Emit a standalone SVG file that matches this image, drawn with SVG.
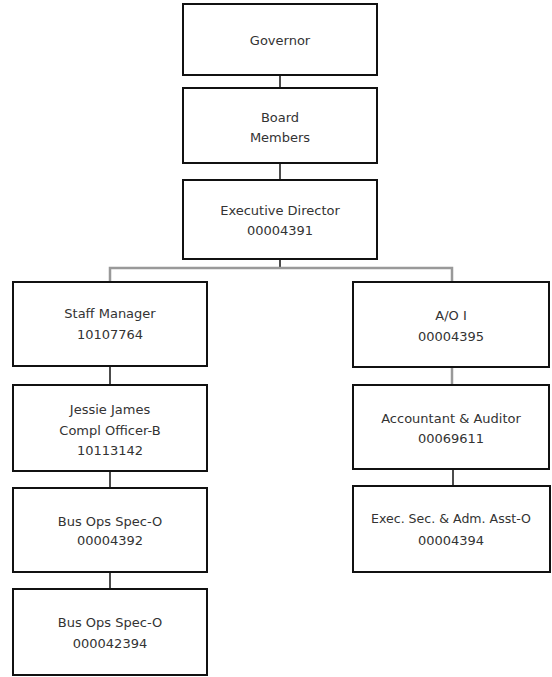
<svg xmlns="http://www.w3.org/2000/svg" width="552" height="677" viewBox="0 0 552 677">
<style>
.box{fill:#fff;stroke:#111;stroke-width:2}
.t{font-family:"DejaVu Sans",sans-serif;font-size:13px;fill:#333;text-anchor:middle}
.c{fill:none;stroke:#111;stroke-width:1.5}
.g{fill:none;stroke:#999;stroke-width:2.5}
</style>
<rect width="552" height="677" fill="#fff"/>
<g id="connectors">
<line class="c" x1="280" y1="75" x2="280" y2="88"/>
<line class="c" x1="280" y1="163" x2="280" y2="180"/>
<line class="c" x1="280" y1="259" x2="280" y2="268"/>
<polyline class="g" points="110,282 110,268 452,268 452,282"/>
<line class="c" x1="110" y1="366" x2="110" y2="385"/>
<line class="c" x1="110" y1="471" x2="110" y2="488"/>
<line class="c" x1="110" y1="572" x2="110" y2="589"/>
<line class="g" x1="452" y1="367" x2="452" y2="385"/>
<line class="c" x1="453" y1="469" x2="453" y2="486"/>
</g>
<g id="governor"><rect class="box" x="183" y="4" width="194" height="71"/><text class="t" x="280" y="45">Governor</text></g>
<g id="board"><rect class="box" x="183" y="88" width="194" height="75"/><text class="t" x="280" y="122">Board</text><text class="t" x="280" y="142">Members</text></g>
<g id="exec"><rect class="box" x="183" y="180" width="194" height="79"/><text class="t" x="280" y="215">Executive Director</text><text class="t" x="280" y="235">00004391</text></g>
<g id="staff"><rect class="box" x="13" y="282" width="194" height="84"/><text class="t" x="110" y="318">Staff Manager</text><text class="t" x="110" y="339">10107764</text></g>
<g id="jessie"><rect class="box" x="13" y="385" width="194" height="86"/><text class="t" x="110" y="414">Jessie James</text><text class="t" x="110" y="435">Compl Officer-B</text><text class="t" x="110" y="455">10113142</text></g>
<g id="busops1"><rect class="box" x="13" y="488" width="194" height="84"/><text class="t" x="110" y="526">Bus Ops Spec-O</text><text class="t" x="110" y="545">00004392</text></g>
<g id="busops2"><rect class="box" x="13" y="589" width="194" height="86"/><text class="t" x="110" y="627">Bus Ops Spec-O</text><text class="t" x="110" y="648">000042394</text></g>
<g id="ao"><rect class="box" x="353" y="282" width="196" height="85"/><text class="t" x="451" y="320">A/O I</text><text class="t" x="451" y="341">00004395</text></g>
<g id="accountant"><rect class="box" x="353" y="385" width="196" height="84"/><text class="t" x="451" y="423">Accountant &amp; Auditor</text><text class="t" x="451" y="443">00069611</text></g>
<g id="execsec"><rect class="box" x="353" y="486" width="197" height="86"/><text class="t" x="451" y="523" textLength="160" lengthAdjust="spacingAndGlyphs">Exec. Sec. &amp; Adm. Asst-O</text><text class="t" x="451" y="545">00004394</text></g>
</svg>
